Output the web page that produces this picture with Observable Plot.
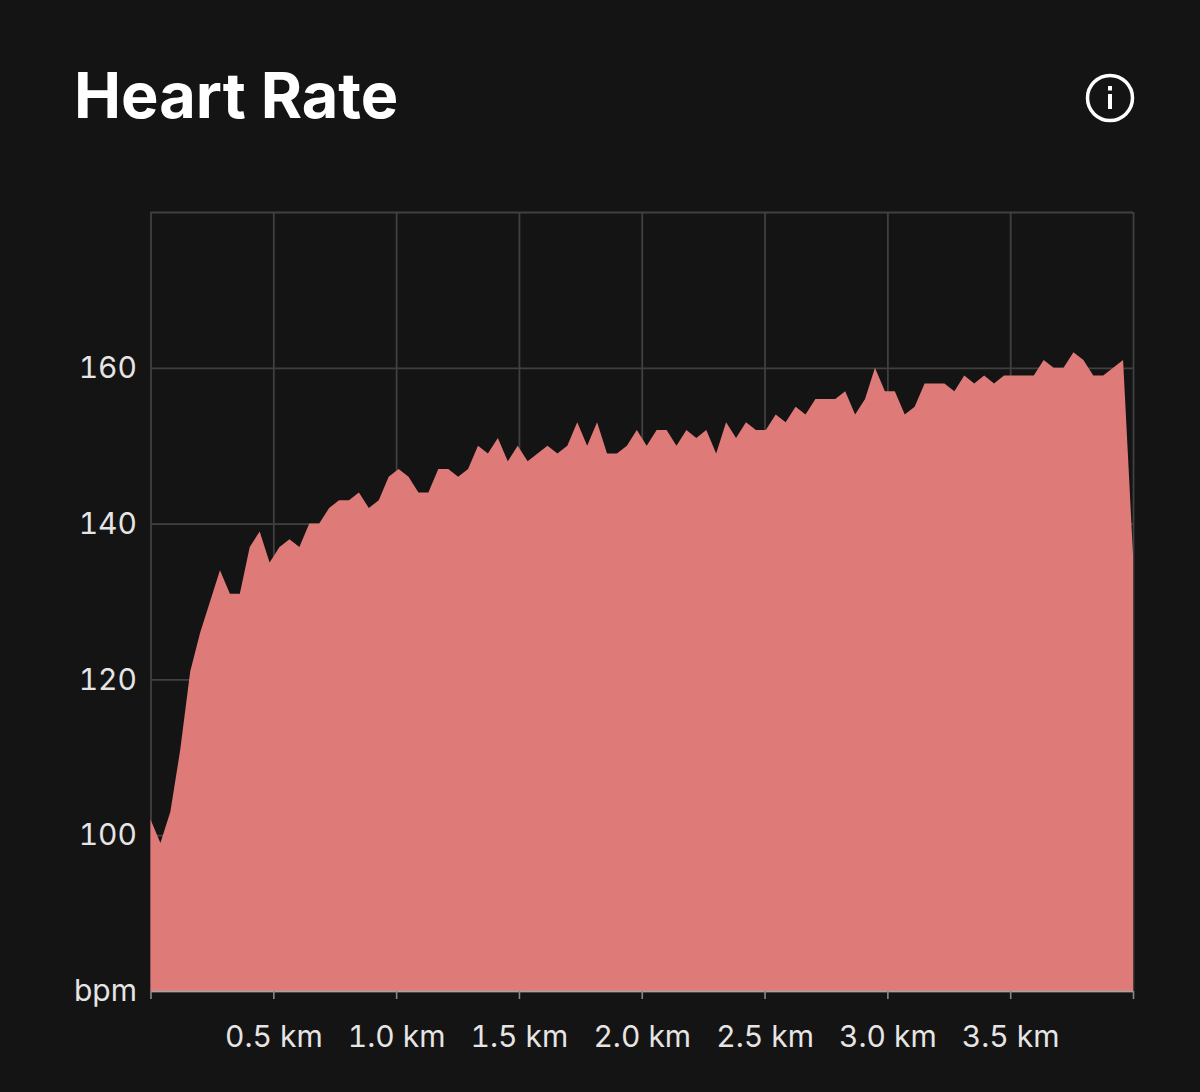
<!DOCTYPE html>
<html>
<head>
<meta charset="utf-8">
<script src="https://cdn.jsdelivr.net/npm/d3@7"></script>
<script src="https://cdn.jsdelivr.net/npm/@observablehq/plot@0.6"></script>
<style>
  html, body { margin: 0; padding: 0; background: #141414; width: 1200px; height: 1092px; overflow: hidden; }
  #header { position: relative; height: 172px; }
  #title { position: absolute; left: 74px; top: 57px; margin: 0; font: 700 63px/76px "Inter", sans-serif; color: #fff; letter-spacing: 0; }
  #info { position: absolute; left: 1085px; top: 73px; }
  #chart svg { display: block; }
</style>
</head>
<body>
<div id="header">
  <h1 id="title">Heart Rate</h1>
  <svg id="info" width="50" height="50" viewBox="0 0 50 50" aria-label="info">
    <circle cx="25" cy="25" r="22.5" fill="none" stroke="#fff" stroke-width="3.5"/>
    <rect x="23" y="21" width="4" height="15" fill="#fff"/>
    <rect x="23" y="13" width="4" height="4.5" fill="#fff"/>
  </svg>
</div>
<div id="chart"></div>
<script>
const heartRate = [
  102, 99, 103, 111, 121, 126, 130, 134, 131, 131,
  137, 139, 135, 137, 138, 137, 140, 140, 142, 143,
  143, 144, 142, 143, 146, 147, 146, 144, 144, 147,
  147, 146, 147, 150, 149, 151, 148, 150, 148, 149,
  150, 149, 150, 153, 150, 153, 149, 149, 150, 152,
  150, 152, 152, 150, 152, 151, 152, 149, 153, 151,
  153, 152, 152, 154, 153, 155, 154, 156, 156, 156,
  157, 154, 156, 160, 157, 157, 154, 155, 158, 158,
  158, 157, 159, 158, 159, 158, 159, 159, 159, 159,
  161, 160, 160, 162, 161, 159, 159, 160, 161, 136
];
const totalKm = 4;
const xTicks = [0, 0.5, 1, 1.5, 2, 2.5, 3, 3.5, 4];
const yTicks = [80, 100, 120, 140, 160, 180];
const yLabels = [80, 100, 120, 140, 160];
const yBase = 80;
const yTop = 180;

const rows = heartRate.map((bpm, i) => ({ km: i * totalKm / (heartRate.length - 1), bpm }));

const fontFamily = '"Inter", sans-serif';
const chart = Plot.plot({
  width: 1200,
  height: 920,
  marginLeft: 150.5,
  marginRight: 67,
  marginTop: 40,
  marginBottom: 101,
  style: { background: "transparent", fontFamily, overflow: "visible" },
  x: { domain: [0, totalKm] },
  y: { domain: [yBase, yTop] },
  marks: [
    Plot.ruleX(xTicks, { stroke: "#423f40", strokeWidth: 1.8 }),
    Plot.ruleY(yTicks, { stroke: "#423f40", strokeWidth: 1.8 }),
    Plot.areaY(rows, { x: "km", y1: () => yBase, y2: "bpm", fill: "#de7b79", curve: "linear" }),
    Plot.ruleY([yBase], { stroke: "#a8a4a4", strokeWidth: 1.6 }),
    Plot.axisX({
      ticks: xTicks,
      label: null,
      tickSize: 8,
      tickPadding: 26,
      stroke: "#8a8686",
      strokeWidth: 1.6,
      fill: "#e6e4e4",
      fontSize: 30,
      tickFormat: d => (d === 0 || d === totalKm) ? "" : `${d.toFixed(1)} km`
    }),
    Plot.axisY({
      ticks: yLabels,
      label: null,
      tickSize: 0,
      tickPadding: 14,
      fill: "#e6e4e4",
      fontSize: 30,
      tickFormat: d => d === yBase ? "bpm" : String(d)
    })
  ]
});
document.getElementById("chart").append(chart);
</script>
</body>
</html>
